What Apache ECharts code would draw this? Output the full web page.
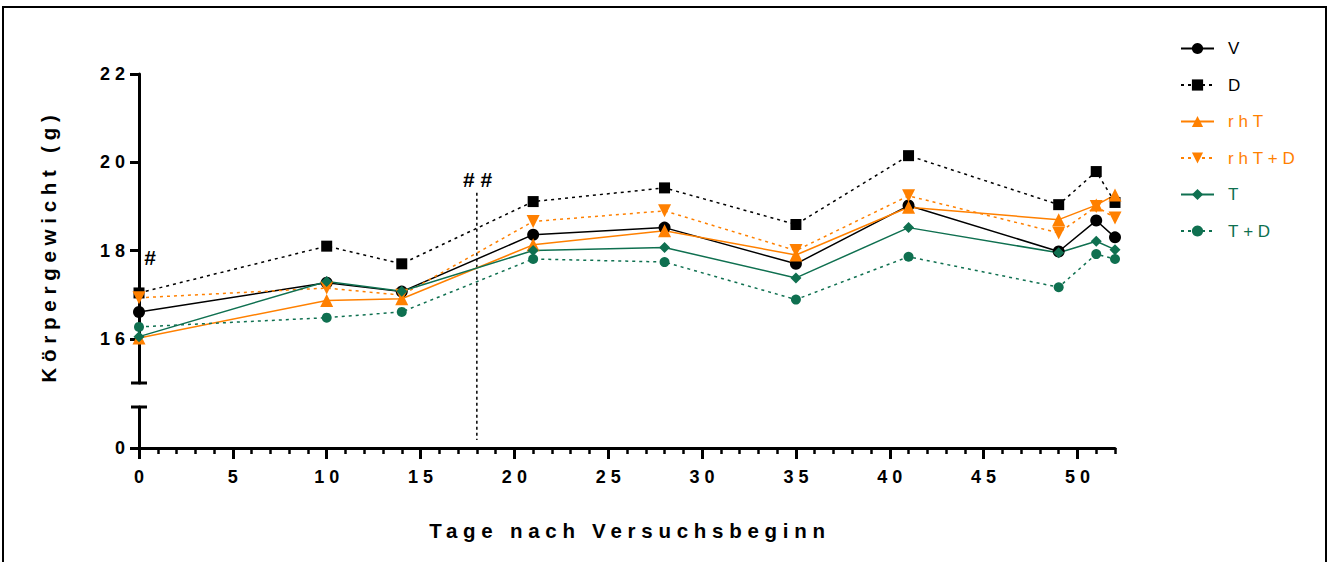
<!DOCTYPE html>
<html>
<head>
<meta charset="utf-8">
<script src="https://cdn.jsdelivr.net/npm/echarts@6/dist/echarts.min.js"></script>
<style>
  html, body { margin: 0; padding: 0; background: #fff; }
  #chart { width: 1330px; height: 562px; }
  /* wide tracking used throughout the figure */
  #chart text { letter-spacing: 0.28em; }
</style>
</head>
<body>
<div id="chart"></div>
<script>
// Measurement days
const days = [0, 10, 14, 21, 28, 35, 41, 49, 51, 52];

// Mean body weight (g) per group
const valV    = [16.61, 17.27, 17.07, 18.36, 18.52, 17.70, 19.02, 17.98, 18.68, 18.30];
const valD    = [17.04, 18.10, 17.70, 19.11, 19.42, 18.59, 20.15, 19.04, 19.79, 19.09];
const valRhT  = [16.02, 16.87, 16.91, 18.13, 18.45, 17.90, 18.98, 18.70, 19.03, 19.26];
const valRhTD = [16.93, 17.15, 16.99, 18.66, 18.90, 18.00, 19.24, 18.40, 19.00, 18.74];
const valT    = [16.05, 17.30, 17.08, 18.00, 18.07, 17.38, 18.52, 17.95, 18.21, 18.02];
const valTD   = [16.27, 16.48, 16.61, 17.81, 17.74, 16.89, 17.86, 17.17, 17.92, 17.81];

const groupNames = ['V', 'D', 'rhT', 'rhT+D', 'T', 'T+D'];

// Tick labels
const yTicksUpper = [16, 18, 20, 22];
const yTicksLower = [0];
const xMajorTicks = [0, 5, 10, 15, 20, 25, 30, 35, 40, 45, 50];

// Significance marks and the reference day line
const sigMarks = [
  { day: 0.75, value: 17.84, text: '#' },
  { day: 18.2, value: 19.62, text: '##' }
];
const refDay = 18;
const refTop = 19.31;

const FONT = 'Liberation Sans, Arial, Helvetica, sans-serif';
const BLACK = '#000000';
const ORANGE = '#FF8000';
const GREEN = '#0F7050';

const looks = {
  'V':     { values: valV,    color: BLACK,  symbol: 'circle',   size: 12, rotate: 0,   dashed: false },
  'D':     { values: valD,    color: BLACK,  symbol: 'rect',     size: 11, rotate: 0,   dashed: true  },
  'rhT':   { values: valRhT,  color: ORANGE, symbol: 'triangle', size: 13, rotate: 0,   dashed: false },
  'rhT+D': { values: valRhTD, color: ORANGE, symbol: 'triangle', size: 13, rotate: 180, dashed: true  },
  'T':     { values: valT,    color: GREEN,  symbol: 'diamond',  size: 11, rotate: 0,   dashed: false },
  'T+D':   { values: valTD,   color: GREEN,  symbol: 'circle',   size: 10, rotate: 0,   dashed: true  }
};

const chart = echarts.init(document.getElementById('chart'), null, { renderer: 'svg' });

const series = groupNames.map(function (name) {
  const l = looks[name];
  return {
    name: name,
    type: 'line',
    xAxisIndex: 0,
    yAxisIndex: 0,
    data: days.map(function (d, i) { return [d, l.values[i]]; }),
    symbol: l.symbol,
    symbolSize: l.size,
    symbolRotate: l.rotate,
    showSymbol: true,
    lineStyle: { color: l.color, width: 1.5, type: l.dashed ? [3, 4] : 'solid' },
    itemStyle: { color: l.color },
    emphasis: { disabled: true }
  };
});

const axisLineStyle = { color: BLACK, width: 3 };
const tickLabel = { fontFamily: FONT, fontWeight: 'bold', fontSize: 18, color: BLACK };

chart.setOption({
  animation: false,
  backgroundColor: '#ffffff',
  grid: [
    { left: 139, width: 976, top: 74, height: 309 },
    { left: 139, width: 976, top: 407, height: 41 }
  ],
  xAxis: [
    { gridIndex: 0, type: 'value', min: 0, max: 52, show: false },
    {
      gridIndex: 1, type: 'value', min: 0, max: 52, interval: 5, position: 'bottom',
      axisLine: { show: true, lineStyle: axisLineStyle },
      axisTick: { show: true, length: 11, lineStyle: { color: BLACK, width: 3 }, customValues: xMajorTicks },
      axisLabel: Object.assign({ margin: 20, padding: [0, 0, 0, 5], customValues: xMajorTicks }, tickLabel),
      splitLine: { show: false },
      name: 'Tage nach Versuchsbeginn',
      nameLocation: 'middle',
      nameGap: 72,
      nameTextStyle: { fontFamily: FONT, fontWeight: 'bold', fontSize: 20.5, color: BLACK, padding: [0, 0, 0, 6] }
    },
    {
      gridIndex: 1, type: 'value', min: 0, max: 52, interval: 1, position: 'bottom',
      axisLine: { show: false },
      axisTick: { show: true, length: 6, lineStyle: { color: BLACK, width: 2.5 } },
      axisLabel: { show: false },
      splitLine: { show: false }
    }
  ],
  yAxis: [
    {
      gridIndex: 0, type: 'value', min: 15, max: 22,
      axisLine: { show: true, lineStyle: axisLineStyle },
      axisTick: { show: true, length: 9, lineStyle: { color: BLACK, width: 3 }, customValues: yTicksUpper },
      axisLabel: Object.assign({ margin: 9, customValues: yTicksUpper }, tickLabel),
      splitLine: { show: false }
    },
    {
      gridIndex: 1, type: 'value', min: 0, max: 1,
      axisLine: { show: true, lineStyle: axisLineStyle },
      axisTick: { show: true, length: 9, lineStyle: { color: BLACK, width: 3 }, customValues: yTicksLower },
      axisLabel: Object.assign({ margin: 9, customValues: yTicksLower }, tickLabel),
      splitLine: { show: false }
    }
  ],
  legend: {
    orient: 'vertical',
    left: 1175,
    top: 35,
    itemWidth: 33,
    itemHeight: 14,
    itemGap: 19.5,
    selectedMode: false,
    data: groupNames.map(function (n) {
      return { name: n, textStyle: { color: looks[n].color } };
    }),
    textStyle: { fontFamily: FONT, fontSize: 17, padding: [0, 0, 0, 9] }
  },
  series: series
});

// Axis break caps, the reference day line, significance marks, title and frame
const capLow = chart.convertToPixel({ gridIndex: 0 }, [0, 15]);
const capHigh = chart.convertToPixel({ gridIndex: 1 }, [0, 1]);
const refA = chart.convertToPixel({ gridIndex: 0 }, [refDay, refTop]);
const refB = chart.convertToPixel({ gridIndex: 1 }, [refDay, 0]);

const graphics = [
  {
    type: 'rect', silent: true,
    shape: { x: 3, y: 7, width: 1323, height: 620 },
    style: { fill: 'none', stroke: BLACK, lineWidth: 2 }
  },
  {
    type: 'line', silent: true,
    shape: { x1: capLow[0] - 8, y1: capLow[1], x2: capLow[0] + 8, y2: capLow[1] },
    style: { stroke: BLACK, lineWidth: 3 }
  },
  {
    type: 'line', silent: true,
    shape: { x1: capHigh[0] - 8, y1: capHigh[1], x2: capHigh[0] + 8, y2: capHigh[1] },
    style: { stroke: BLACK, lineWidth: 3 }
  },
  {
    type: 'line', silent: true,
    shape: { x1: refA[0], y1: refA[1], x2: refB[0], y2: refB[1] - 8 },
    style: { stroke: BLACK, lineWidth: 1.5, lineDash: [3, 3] }
  },
  {
    type: 'text', silent: true,
    x: 48, y: 246, rotation: Math.PI / 2,
    style: {
      text: 'Körpergewicht (g)', fill: BLACK,
      font: 'bold 20.5px ' + FONT, textAlign: 'center', textVerticalAlign: 'middle'
    }
  }
];

sigMarks.forEach(function (m) {
  const p = chart.convertToPixel({ gridIndex: 0 }, [m.day, m.value]);
  graphics.push({
    type: 'text', silent: true,
    x: p[0], y: p[1],
    style: {
      text: m.text, fill: BLACK,
      font: 'bold 21px ' + FONT, textAlign: 'center', textVerticalAlign: 'middle'
    }
  });
});

chart.setOption({ graphic: graphics });
</script>
</body>
</html>
